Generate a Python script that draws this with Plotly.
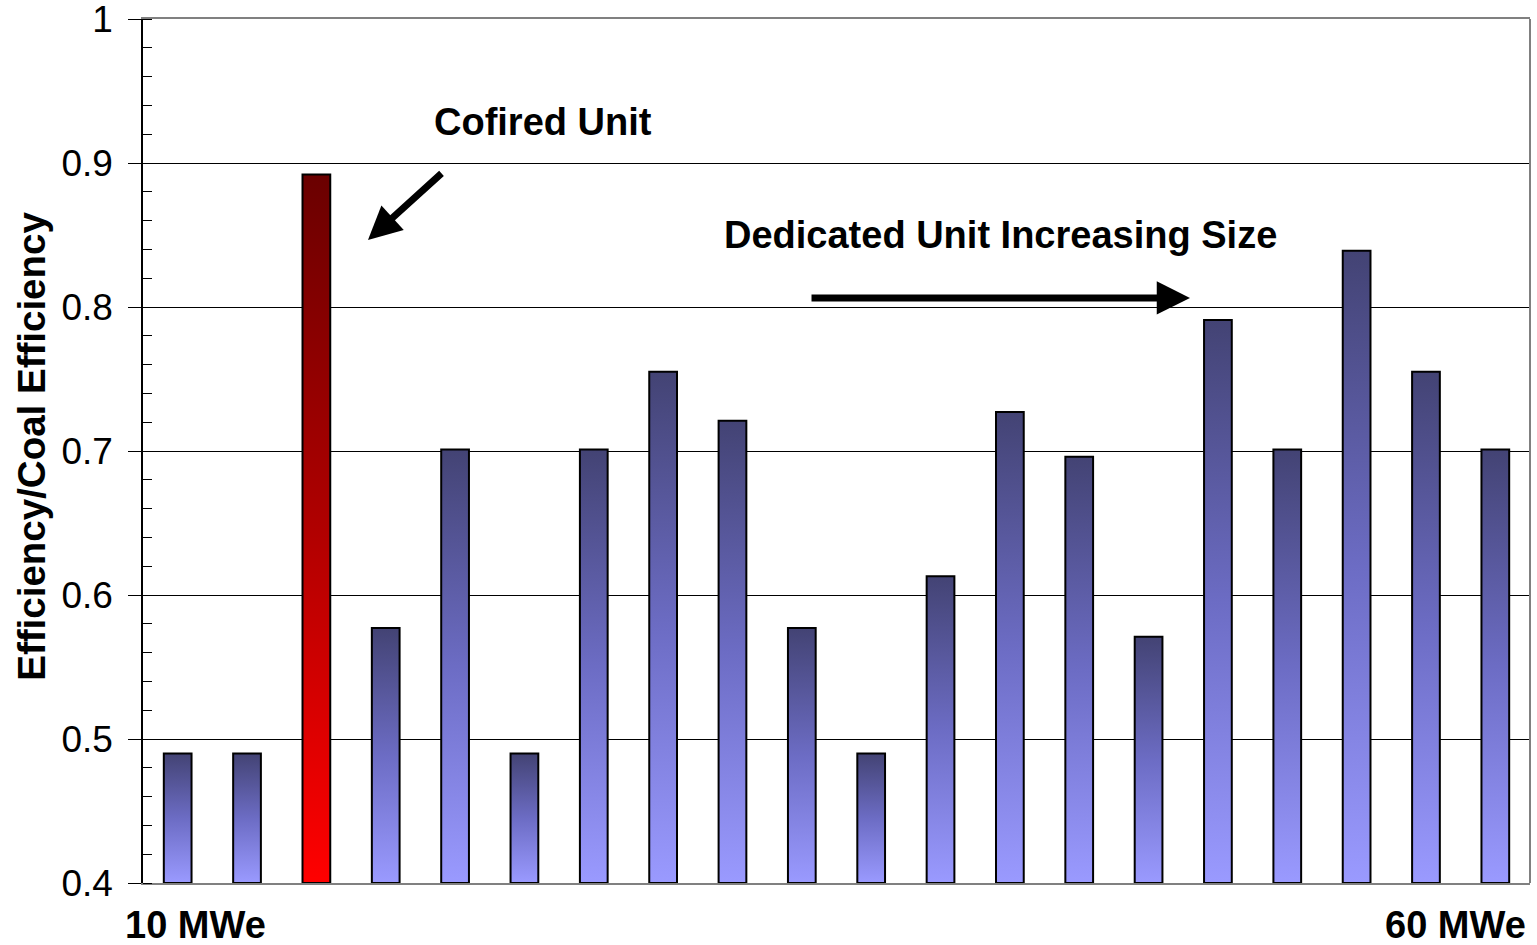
import plotly.graph_objects as go

# ---- data ----
units = list(range(1, 21))
efficiency = [0.490, 0.490, 0.892, 0.577, 0.701, 0.490, 0.701, 0.755, 0.721, 0.577,
              0.490, 0.613, 0.727, 0.696, 0.571, 0.791, 0.701, 0.839, 0.755, 0.701]
unit_type = ["dedicated", "dedicated", "cofired"] + ["dedicated"] * 17
y_ticks = [0.4, 0.5, 0.6, 0.7, 0.8, 0.9, 1.0]
y_min, y_max = 0.4, 1.0
left_label = "10 MWe"
right_label = "60 MWe"

# ---- styles ----
FONT = "Arial, Liberation Sans, sans-serif"
grad = {
    "dedicated": [[0, "#9a9aff"], [0.5, "#6c6cc4"], [1, "#434374"]],
    "cofired": [[0, "#ff0000"], [0.5, "#b00000"], [1, "#6a0000"]],
}
half_w = 0.2

fig = go.Figure()
for i, (v, t) in enumerate(zip(efficiency, unit_type)):
    xs = [i - half_w, i + half_w, i + half_w, i - half_w, i - half_w]
    ys = [y_min, y_min, v, v, y_min]
    fig.add_trace(go.Scatter(
        x=xs, y=ys, mode="lines", fill="toself",
        fillgradient=dict(type="vertical", colorscale=grad[t], start=y_min, stop=v),
        line=dict(color="black", width=2),
        hoverinfo="skip", showlegend=False,
    ))

fig.update_layout(
    width=1537, height=945,
    margin=dict(l=143, r=7, t=19, b=62, autoexpand=False),
    plot_bgcolor="white", paper_bgcolor="white",
    font=dict(family=FONT, color="black"),
    showlegend=False,
)
fig.update_xaxes(
    range=[-0.5, len(units) - 0.5], showgrid=False, zeroline=False,
    showticklabels=False, ticks="", automargin=False,
    showline=True, linecolor="#808080", linewidth=2, mirror=True,
)
fig.update_yaxes(
    range=[y_min, y_max + 1e-6], tickvals=y_ticks, ticktext=[f"{v:g}" for v in y_ticks],
    automargin=False, ticklabeloverflow="allow",
    showgrid=True, gridcolor="black", gridwidth=1, zeroline=False,
    showline=True, linecolor="black", linewidth=1.5,
    ticks="outside", ticklen=13, tickcolor="black", tickwidth=1.2,
    ticklabelstandoff=8,
    tickfont=dict(size=37, family=FONT, color="black"),
    minor=dict(dtick=0.02, ticks="inside", ticklen=9, tickcolor="black", tickwidth=1.2, showgrid=False),
)
# right border
fig.add_shape(type="line", xref="paper", yref="paper", x0=1, x1=1, y0=0, y1=1,
              line=dict(color="#808080", width=2))

ann_font = dict(family=FONT, size=38, color="black")
fig.add_annotation(text="<b>Efficiency/Coal Efficiency</b>", xref="paper", yref="paper",
                   x=-0.080, y=0.505, xanchor="center", yanchor="middle",
                   textangle=-90, showarrow=False,
                   font=dict(family=FONT, size=38.5, color="black"))
fig.add_annotation(text=f"<b>{left_label}</b>", xref="paper", yref="paper",
                   x=-0.0144, y=-0.049, xanchor="left", yanchor="middle",
                   showarrow=False, font=ann_font)
fig.add_annotation(text=f"<b>{right_label}</b>", xref="paper", yref="paper",
                   x=0.9986, y=-0.049, xanchor="right", yanchor="middle",
                   showarrow=False, font=ann_font)
fig.add_annotation(text="<b>Cofired Unit</b>", x=5.27, y=0.9285,
                   showarrow=False, font=ann_font)
fig.add_annotation(text="<b>Dedicated Unit Increasing Size</b>", x=11.86, y=0.85,
                   showarrow=False, font=ann_font)
# arrows
fig.add_annotation(text="", x=2.744, y=0.8465, ax=3.826, ay=0.8938,
                   axref="x", ayref="y", showarrow=True,
                   arrowhead=2, arrowwidth=7, arrowsize=0.95, arrowcolor="black")
fig.add_annotation(text="", x=14.597, y=0.8063, ax=9.118, ay=0.8063,
                   axref="x", ayref="y", showarrow=True,
                   arrowhead=2, arrowwidth=7, arrowsize=0.95, arrowcolor="black")

fig.write_html("out.html", config={"displayModeBar": False},
               post_script="document.body.style.margin='0';document.body.style.overflow='hidden';")
